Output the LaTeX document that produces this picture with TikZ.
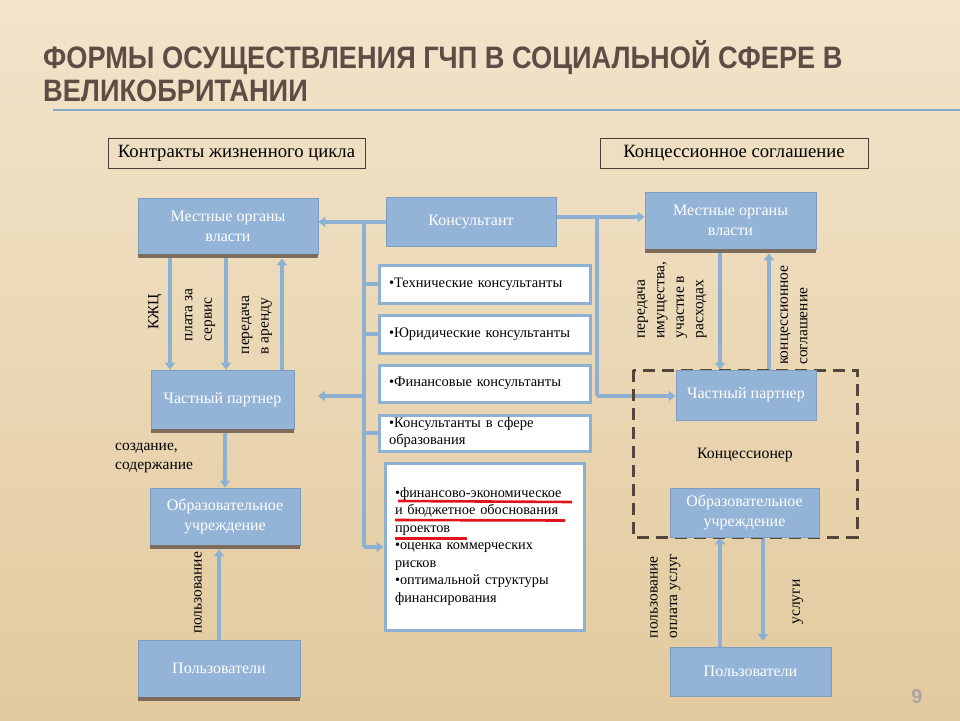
\documentclass[tikz,border=0pt]{standalone}
\usepackage{fontspec}
\setmainfont{Liberation Serif}
\newfontfamily\titlefont[FakeStretch=0.877]{Liberation Sans}
\newfontfamily\numfont{Liberation Sans}
\usetikzlibrary{arrows.meta}
\definecolor{bgtop}{HTML}{F2E4CB}
\definecolor{bgbot}{HTML}{E3CA9E}
\definecolor{titlec}{HTML}{5E4C45}
\definecolor{tline}{HTML}{8AA9C6}
\definecolor{boxblue}{HTML}{93B3D7}
\definecolor{boxedge}{HTML}{7C9CC0}
\definecolor{connc}{HTML}{8EB0D3}
\definecolor{shadowc}{HTML}{7D6B5B}
\definecolor{hdredge}{HTML}{4A3F36}
\definecolor{dashc}{HTML}{54463A}
\definecolor{redc}{HTML}{E0141A}
\definecolor{numgray}{HTML}{A9A5A0}
\pgfdeclarelayer{bg}
\pgfdeclarelayer{lines}
\pgfsetlayers{bg,lines,main}
\begin{document}
\begin{tikzpicture}[x=1pt,y=-1pt,
  bluebox/.style={draw=boxedge,line width=0.8pt,fill=boxblue,text=white,align=center,inner sep=0pt,
    font=\fontsize{16}{20}\selectfont},
  whitebox/.style={draw=connc,line width=3pt,fill=white,align=left,inner xsep=10pt,inner ysep=0pt,
    text width=191pt,font=\fontsize{14.5}{17}\selectfont},
  hdrbox/.style={draw=hdredge,line width=0.9pt,inner sep=0pt,minimum height=30pt,
    font=\fontsize{18.7}{21}\selectfont},
  lbl/.style={inner sep=0pt,align=left,font=\fontsize{15.5}{19.5}\selectfont},
  conn/.style={draw=connc,line width=4pt},
  arr/.style={-{Triangle[length=7pt,width=10pt]}},
  shadowbar/.style={fill=shadowc},
  dashbox/.style={draw=dashc,line width=3pt,dash pattern=on 12pt off 7pt}
]
\useasboundingbox (0,0) rectangle (960,720);
\begin{pgfonlayer}{bg}
  \shade[top color=bgtop,bottom color=bgbot] (0,0) rectangle (960,720);
\end{pgfonlayer}

% title
\node[anchor=north west,inner sep=0pt,align=left,text=titlec,
  font=\titlefont\bfseries\fontsize{31}{33.5}\selectfont] (title) at (43,40)
  {ФОРМЫ ОСУЩЕСТВЛЕНИЯ ГЧП В СОЦИАЛЬНОЙ СФЕРЕ В\\ВЕЛИКОБРИТАНИИ};
\coordinate (tl1) at (53,110);
\coordinate (tl2) at (960,110);
\draw[tline,line width=2pt] (tl1) -- (tl2);

% headers
\node[hdrbox,minimum width=257pt] (hl) at (236.5,153) {Контракты жизненного цикла};
\node[hdrbox,minimum width=268pt] (hr) at (734,153) {Концессионное соглашение};

% blue boxes
\node[bluebox,minimum width=180pt,minimum height=56pt] (mol) at (228,226) {Местные органы\\власти};
\node[bluebox,minimum width=170pt,minimum height=49pt] (kons) at (471,222) {Консультант};
\node[bluebox,minimum width=171pt,minimum height=57pt] (mor) at (730.5,220.5) {Местные органы\\власти};
\node[bluebox,minimum width=143pt,minimum height=59pt] (cpl) at (222.5,399.5) {Частный партнер};
\node[bluebox,minimum width=150pt,minimum height=57pt] (obl) at (225,516.5) {Образовательное\\учреждение};
\node[bluebox,minimum width=162pt,minimum height=57pt] (pl) at (219,668.5) {Пользователи};
\node[bluebox,minimum width=140pt,minimum height=50pt] (cpr) at (746,395) {Частный партнер};
\node[bluebox,minimum width=149pt,minimum height=49pt] (obr) at (744.5,512.5) {Образовательное\\учреждение};
\node[bluebox,minimum width=161pt,minimum height=49pt] (pr) at (750.5,671.5) {Пользователи};

% shadows
\foreach \b in {mol,cpl,obl,pl,mor}{
  \fill[shadowbar] (\b.south west) rectangle ([yshift=-4pt]\b.south east);
}
\coordinate (mols) at ([yshift=-4pt]mol.south);
\coordinate (cpls) at ([yshift=-4pt]cpl.south);
\coordinate (obls) at ([yshift=-4pt]obl.south);
\coordinate (mors) at ([yshift=-4pt]mor.south);

% white boxes
\node[whitebox,minimum height=38pt] (tech) at (484.5,284) {•Технические консультанты};
\node[whitebox,minimum height=38pt] (yur) at (484.5,334) {•Юридические консультанты};
\node[whitebox,minimum height=37pt] (fin) at (484.5,383.5) {•Финансовые консультанты};
\node[whitebox,minimum height=36pt] (edu) at (484.5,433) {•Консультанты в сфере\\образования};
\node[whitebox,text width=179pt,inner xsep=10pt,minimum height=167pt,font=\fontsize{14.3}{17.5}\selectfont] (big) at (484.5,546.5)
  {•финансово-экономическое\\и бюджетное обоснования\\проектов\\•оценка коммерческих\\рисков\\•оптимальной структуры\\финансирования};

% red underlines
\draw[redc,line width=2.6pt] (398,501) -- (572,502);
\draw[redc,line width=2.6pt] (395,520) -- (565,520.5);
\draw[redc,line width=2.6pt] (395,538.5) -- (467,538.5);

% connectors (under the boxes)
\begin{pgfonlayer}{lines}
  \coordinate (tA) at (364,222);
  \coordinate (tB) at (364,547);
  \coordinate (tC) at (364,396);
  \coordinate (cplarr) at (318,396);
  \draw[conn,arr] (kons.west) -- (kons.west -| mol.east);
  \draw[conn] (tA) -- (tB);
  \draw[conn,arr] (tB) -- (tB -| big.west);
  \draw[conn] (tech.west -| tA) -- (tech.west);
  \draw[conn] (yur.west -| tA) -- (yur.west);
  \draw[conn] (edu.west -| tA) -- (edu.west);
  \draw[conn,arr] (tC) -- (cplarr);

  \coordinate (rA) at (597,217);
  \coordinate (rB) at (597,396);
  \draw[conn,arr] (kons.east |- rA) -- (rA -| mor.west);
  \draw[conn] (rA) -- (rB);
  \draw[conn,arr] (rB) -- (rB -| cpr.west);

  \coordinate (x1) at (170,0);
  \coordinate (x2) at (226,0);
  \coordinate (x3) at (282,0);
  \coordinate (x4) at (225,0);
  \coordinate (x5) at (219,0);
  \draw[conn,arr] (mol.south -| x1) -- (cpl.north -| x1);
  \draw[conn,arr] (mol.south -| x2) -- (cpl.north -| x2);
  \draw[conn,arr] (cpl.north -| x3) -- (mols -| x3);
  \draw[conn,arr] (cpl.south -| x4) -- (obl.north -| x4);
  \draw[conn,arr] (pl.north -| x5) -- (obls -| x5);

  \coordinate (x6) at (720,0);
  \coordinate (x7) at (769,0);
  \coordinate (x8) at (763,0);
  \coordinate (pr8) at (763,641);
  \draw[conn,arr] (mor.south -| x6) -- (cpr.north -| x6);
  \draw[conn,arr] (cpr.north -| x7) -- (mors -| x7);
  \draw[conn,arr] (pr.north -| x6) -- (obr.south -| x6);
  \draw[conn,arr] (obr.south -| x8) -- (pr8);

  \draw[dashbox] (633,370) rectangle (857,537);
\end{pgfonlayer}

% labels
\node[lbl,rotate=90] (lk) at (155,312) {КЖЦ};
\node[lbl,rotate=90] (lp) at (200,315) {плата за\\сервис};
\node[lbl,rotate=90] (la) at (257,325) {передача\\в аренду};
\node[lbl,anchor=west] (ls) at (115,458) {создание,\\содержание};
\node[lbl,rotate=90] (lu) at (198,593) {пользование};
\node[lbl,rotate=90] (rp) at (672,300) {передача\\имущества,\\участие в\\расходах};
\node[lbl,rotate=90] (rk) at (794,315) {концессионное\\соглашение};
\node[lbl,rotate=90] (ro) at (665.5,596) {пользование\\оплата услуг};
\node[lbl,rotate=90] (ru) at (798,602) {услуги};
\node[inner sep=0pt,font=\fontsize{15.8}{17}\selectfont] (konc) at (745,455) {Концессионер};

\node[inner sep=0pt,text=numgray,font=\numfont\bfseries\fontsize{20}{20}\selectfont] (pg) at (917,697) {9};
\end{tikzpicture}
\end{document}
